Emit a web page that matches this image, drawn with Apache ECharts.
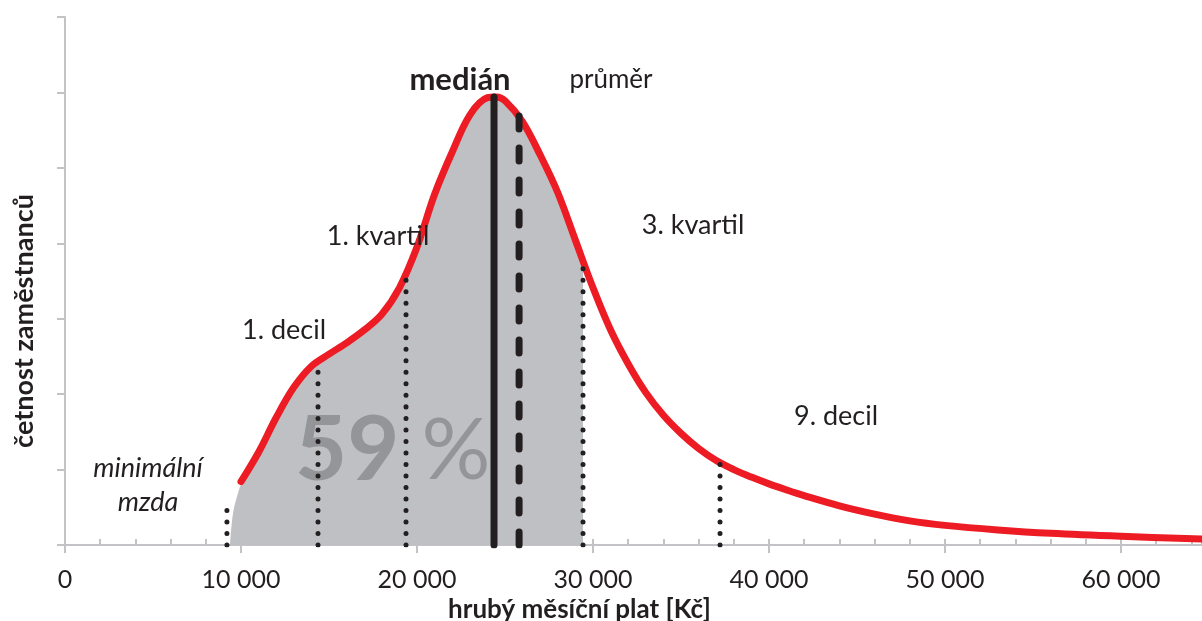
<!DOCTYPE html>
<html>
<head>
<meta charset="utf-8">
<script src="https://cdn.jsdelivr.net/npm/echarts@6/dist/echarts.min.js"></script>
<style>html,body{margin:0;padding:0;background:#fff;overflow:hidden}#c{position:absolute;left:0;top:0;width:1202px;height:621px}</style>
</head>
<body>
<div id="c"></div>
<script>
// red distribution curve (salary in Kč, relative frequency)
const curveX = [10000,11000,12000,13000,14000,15000,16000,17000,18000,19000,20000,21000,22000,23000,24000,24500,25000,26000,27000,28000,29000,30000,31000,32000,33000,34000,35000,36000,37000,38000,39000,40000,41000,42000,44000,46000,48000,50000,53000,56000,60000,64600];
const curveY = [0.84,1.23,1.69,2.09,2.37,2.53,2.68,2.85,3.06,3.41,3.95,4.65,5.21,5.70,5.93,5.94,5.89,5.61,5.17,4.67,4.04,3.41,2.85,2.40,2.02,1.72,1.48,1.28,1.12,1.00,0.90,0.81,0.73,0.655,0.52,0.41,0.32,0.26,0.20,0.155,0.115,0.08];
// grey shaded area (minimum wage .. 3rd quartile)
const areaX = [9375,9545,9830,10000,11000,12000,13000,14000,15000,16000,17000,18000,19000,20000,21000,22000,23000,24000,24500,25000,26000,27000,28000,29000,29432];
const areaY = [0,0.42,0.69,0.80,1.20,1.66,2.06,2.34,2.50,2.65,2.82,3.03,3.38,3.92,4.62,5.18,5.67,5.90,5.91,5.86,5.60,5.18,4.66,4.02,3.70];
// vertical markers
const markerNames = ['minimální mzda','1. decil','1. kvartil','medián','průměr','3. kvartil','9. decil'];
const markerX = [9200,14375,19375,24375,25800,29432,37216];
const markerTop = [0.47,2.32,3.53,5.94,5.73,3.67,1.09];
const xTickLabels = {0:'0',10000:'10 000',20000:'20 000',30000:'30 000',40000:'40 000',50000:'50 000',60000:'60 000'};
const shareLabel = '59';

const FONT = 'Lato';
const TXT = '#231f20';
const AX = '#c3c3c7';

const zip = (xs, ys) => xs.map((x, i) => [x, ys[i]]);

const dotted = {color: TXT, width: 5, type: [0.01, 11.5], cap: 'round'};
const styles = [dotted, dotted, dotted,
  {color: TXT, width: 7, type: 'solid', cap: 'round'},
  {color: TXT, width: 7, type: [13, 19], cap: 'round'},
  dotted, dotted];

const markerSeries = markerNames.map((n, i) => ({
  name: n, type: 'line', symbol: 'none', silent: true, z: 5,
  data: [[markerX[i], 0], [markerX[i], markerTop[i]]],
  lineStyle: styles[i]
}));

const lbl = (text, x, y, extra) => ({type: 'text', x: x, y: y, z: 100,
  style: Object.assign({text: text, fontSize: 27, fill: TXT, fontFamily: FONT, textAlign: 'center', textVerticalAlign: 'middle'}, extra || {})});

const chart = echarts.init(document.getElementById('c'), null, {renderer: 'canvas', width: 1202, height: 621});
chart.setOption({
  animation: false,
  textStyle: {fontFamily: FONT},
  grid: {left: 65, right: 0, top: 17, bottom: 76, containLabel: false, outerBoundsMode: 'none'},
  xAxis: [{
    type: 'value', min: 0, max: 64600, interval: 10000,
    axisLine: {lineStyle: {color: AX, width: 2}},
    axisTick: {show: true, inside: false, length: 8, lineStyle: {color: AX, width: 2}},
    splitLine: {show: false},
    axisLabel: {show: true, margin: 22, fontSize: 25, color: TXT, fontFamily: FONT, showMaxLabel: false,
      formatter: v => xTickLabels[v] !== undefined ? xTickLabels[v] : ''},
    name: 'hrubý měsíční plat [Kč]', nameLocation: 'middle', nameGap: 46,
    nameTextStyle: {fontSize: 26, fontWeight: 'bold', color: TXT, fontFamily: FONT, padding: [0, 108, 0, 0]}
  }, {
    type: 'value', min: 0, max: 64600, interval: 2000, position: 'bottom',
    axisLine: {show: false},
    axisTick: {show: true, inside: true, length: 6, lineStyle: {color: AX, width: 2}},
    axisLabel: {show: false}, splitLine: {show: false}
  }],
  yAxis: {
    type: 'value', min: 0, max: 7, interval: 1,
    axisLine: {show: true, lineStyle: {color: AX, width: 2}},
    axisTick: {show: true, length: 8, lineStyle: {color: AX, width: 2}},
    axisLabel: {show: false}, splitLine: {show: false},
    name: 'četnost zaměstnanců', nameLocation: 'middle', nameGap: 27, nameRotate: 90,
    nameTextStyle: {fontSize: 27, fontWeight: 'bold', color: TXT, fontFamily: FONT, padding: [0, 80, 0, 0]}
  },
  series: [
    {type: 'line', name: 'area', data: zip(areaX, areaY), smooth: 0.35, symbol: 'none', silent: true, z: 1,
      lineStyle: {width: 0}, areaStyle: {color: '#bfc0c4', opacity: 1}},
    {type: 'line', name: 'curve', data: zip(curveX, curveY), smooth: 0.35, symbol: 'none', silent: true, z: 4,
      lineStyle: {color: '#ed1c24', width: 7, cap: 'round', join: 'round'}},
    ...markerSeries
  ],
  graphic: [
    {type: 'text', z: 3, left: 295, top: 406, style: {
      text: '{a|' + shareLabel + '}{b| %}',
      rich: {a: {fontSize: 90, fontWeight: 'bold', fill: '#939598', fontFamily: FONT},
             b: {fontSize: 86, fontWeight: 'normal', fill: '#939598', fontFamily: FONT}}}},
    lbl('medián', 460, 80, {fontSize: 31, fontWeight: 'bold'}),
    lbl('průměr', 611, 80, {fontSize: 26}),
    lbl('1. kvartil', 378, 236),
    lbl('3. kvartil', 693, 225),
    lbl('1. decil', 284, 330),
    lbl('9. decil', 836, 416),
    lbl('minimální', 148, 468, {fontStyle: 'italic'}),
    lbl('mzda', 148, 502, {fontStyle: 'italic'})
  ]
});
</script>
</body>
</html>
